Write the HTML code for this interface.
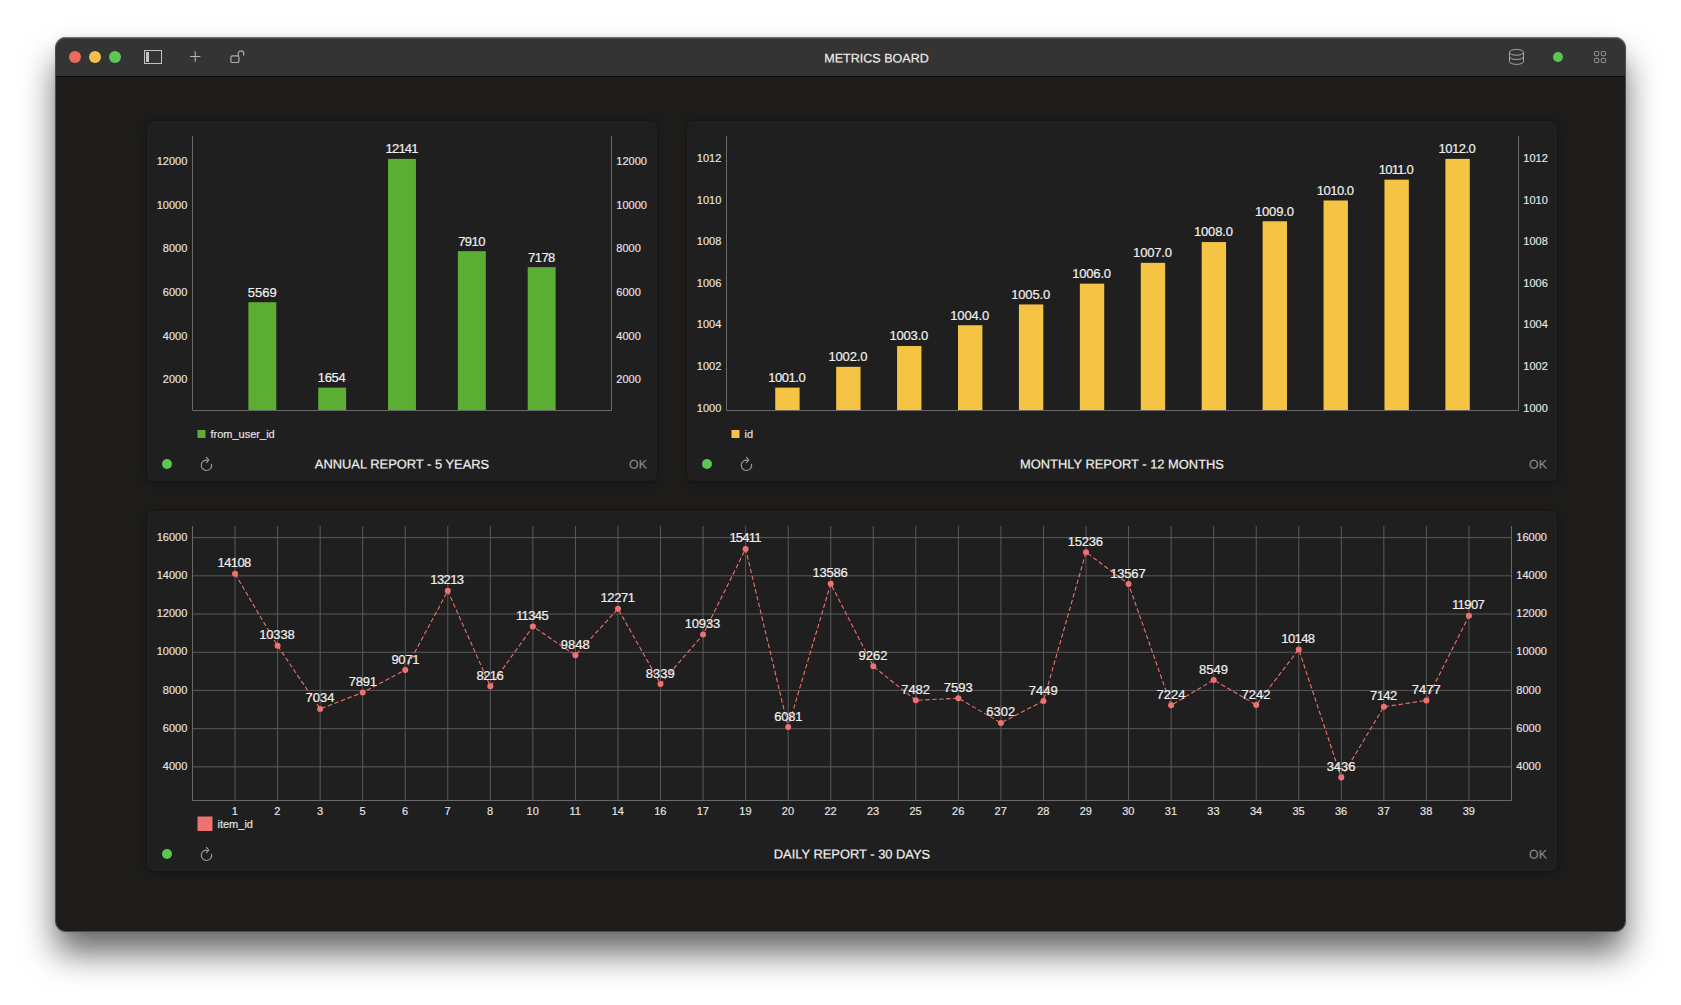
<!DOCTYPE html>
<html lang="en">
<head>
<meta charset="utf-8">
<title>METRICS BOARD</title>
<style>
html,body{margin:0;padding:0;background:#fff;}
body{width:1681px;height:1005px;position:relative;overflow:hidden;font-family:"Liberation Sans", sans-serif;}
.window{position:absolute;left:56px;top:38px;width:1569px;height:893px;border-radius:10px;background:#1d1c1a;
  box-shadow:0 -1px 0 0 #747474,0 0 0 1px #4e4e4e,0 22px 34px rgba(0,0,0,.6),0 0 5px rgba(0,0,0,.14);}
.window:after{content:"";position:absolute;left:0;top:0;right:0;height:20px;border-radius:10px 10px 0 0;
  box-shadow:inset 0 1px 0 rgba(255,255,255,.07);pointer-events:none;}
.titlebar{position:absolute;left:0;top:0;width:100%;height:38px;background:#343434;border-bottom:1px solid #0a0a0a;border-radius:10px 10px 0 0;}
.titlebar h1{position:absolute;left:72px;top:0;margin:0;width:1497px;text-align:center;font-size:12.55px;font-weight:normal;
  color:#ececec;line-height:41px;letter-spacing:0;-webkit-text-stroke:.2px #ececec;transform:translateY(.5px) skewY(.03deg);}
.tl{position:absolute;top:13px;width:12px;height:12px;border-radius:50%;}
.tb-icons{position:absolute;left:0;top:0;}
.statusdot{position:absolute;left:1497px;top:14px;width:10px;height:10px;border-radius:50%;background:#5bc650;}
.card{position:absolute;background:#1f1f1f;border-radius:5.5px;box-shadow:0 1px 8px rgba(0,0,0,.28),0 0 2px rgba(0,0,0,.3);}
.chart{position:absolute;left:0;top:0;font-family:"Liberation Sans", sans-serif;}
footer{position:absolute;left:0;right:0;bottom:0;height:36px;}
footer .dot{position:absolute;left:15px;top:13.5px;width:10px;height:10px;border-radius:50%;background:#5bc650;}
footer .refresh{position:absolute;left:51px;top:9px;}
footer h2{position:absolute;left:0;right:0;top:0;margin:0;text-align:center;font-size:12.9px;font-weight:normal;color:#f0f0f0;line-height:38px;-webkit-text-stroke:.2px #f0f0f0;transform:translateY(.6px) skewY(.03deg);}
footer .ok{position:absolute;right:10.5px;top:0;font-size:12.4px;color:#8c8c8c;line-height:38px;-webkit-text-stroke:.12px #8c8c8c;transform:translateY(.6px) skewY(.03deg);}
</style>
</head>
<body>
<div class="window">
<header class="titlebar">
<span class="tl" style="left:13px;background:#ed6a5e"></span>
<span class="tl" style="left:33px;background:#f5bf4f"></span>
<span class="tl" style="left:53px;background:#61c554"></span>
<svg class="tb-icons" width="1569" height="38" viewBox="56 38 1569 38">
<g fill="none" stroke="#c4c4c4" stroke-width="1">
<rect x="144.5" y="50.5" width="17" height="13"/>
<rect x="146.5" y="52.5" width="2" height="9" fill="#c4c4c4"/>
</g>
<path d="M190 56.5H200.4M195.2 51.3V61.7" stroke="#b4b4b4" stroke-width="1.1" fill="none"/>
<g fill="none" stroke="#ababab" stroke-width="1.2">
<rect x="230.9" y="55.9" width="8" height="6.6" rx="1.6"/>
<path d="M238.3 55.9V53.6a2.7 2.7 0 0 1 5.4 0V55.2" stroke-linecap="round"/>
</g>
<g fill="none" stroke="#a6a6a6" stroke-width="1">
<ellipse cx="1516.5" cy="52.3" rx="7" ry="2.9"/>
<path d="M1509.5 52.3V61.5a7 2.9 0 0 0 14 0V52.3"/>
<path d="M1509.5 56.6a7 2.9 0 0 0 14 0"/>
</g>
<g fill="none" stroke="#9c9c9c" stroke-width="1">
<rect x="1594.5" y="51.5" width="4.2" height="4.2" rx=".9"/>
<rect x="1601.3" y="51.5" width="4.2" height="4.2" rx=".9"/>
<rect x="1594.5" y="58.3" width="4.2" height="4.2" rx=".9"/>
<rect x="1601.3" y="58.3" width="4.2" height="4.2" rx=".9"/>
</g>
</svg>
<h1>METRICS BOARD</h1>
<span class="statusdot"></span>
</header>
<main>
<section class="card" style="left:91px;top:83px;width:510px;height:360px">
<svg class="chart" width="510" height="320" viewBox="147 121 510 320">
<g fill="#5cad33">
<rect x="248.37" y="302.23" width="27.93" height="108.27"/>
<rect x="318.2" y="387.62" width="27.93" height="22.88"/>
<rect x="388.03" y="158.88" width="27.93" height="251.62"/>
<rect x="457.87" y="251.16" width="27.93" height="159.34"/>
<rect x="527.7" y="267.13" width="27.93" height="143.37"/>
</g>
<g stroke="#6a6a6a" stroke-width="1" fill="none">
<path d="M192.5 136 V410.5 H611.5 V136"/>
</g>
<g font-size="11" fill="#e6e6e6" stroke="#e6e6e6" stroke-width=".15" >
<text x="187.3" y="383.28" text-anchor="end">2000</text>
<text x="616.3" y="383.28">2000</text>
<text x="187.3" y="339.65" text-anchor="end">4000</text>
<text x="616.3" y="339.65">4000</text>
<text x="187.3" y="296.03" text-anchor="end">6000</text>
<text x="616.3" y="296.03">6000</text>
<text x="187.3" y="252.4" text-anchor="end">8000</text>
<text x="616.3" y="252.4">8000</text>
<text x="187.3" y="208.78" text-anchor="end">10000</text>
<text x="616.3" y="208.78">10000</text>
<text x="187.3" y="165.15" text-anchor="end">12000</text>
<text x="616.3" y="165.15">12000</text>
</g>
<g font-size="13" fill="#f0f0f0" stroke="#f0f0f0" stroke-width=".2" text-anchor="middle" >
<text x="262.33" y="296.63">5569</text>
<text x="331.63" y="382.02" letter-spacing="-0.27">1654</text>
<text x="401.6" y="153.28" letter-spacing="-0.8">12141</text>
<text x="471.57" y="245.56" letter-spacing="-0.53">7910</text>
<text x="541.4" y="261.53" letter-spacing="-0.53">7178</text>
</g>
<rect x="197.5" y="430" width="8" height="8" fill="#5cad33"/>
<g font-size="11" fill="#e6e6e6" stroke="#e6e6e6" stroke-width=".15" ><text x="210.5" y="437.8">from_user_id</text></g>
</svg>
<footer><span class="dot"></span><svg class="refresh" width="16" height="18" viewBox="0 0 16 18"><g fill="none" stroke="#9e9e9e" stroke-width="1.1" stroke-linecap="round" stroke-linejoin="round"><path d="M13.55 10.2 A5.2 5.2 0 1 1 10.3 6.45"/><path d="M8.4 3.3 L10.9 6.0 L8.5 8.6"/></g></svg><h2>ANNUAL REPORT - 5 YEARS</h2><span class="ok">OK</span></footer>
</section>
<section class="card" style="left:631px;top:83px;width:870px;height:360px">
<svg class="chart" width="870" height="320" viewBox="687 121 870 320">
<g fill="#f6c445">
<rect x="775.24" y="387.62" width="24.37" height="22.88"/>
<rect x="836.16" y="366.83" width="24.37" height="43.67"/>
<rect x="897.08" y="346.03" width="24.37" height="64.47"/>
<rect x="958.01" y="325.24" width="24.37" height="85.26"/>
<rect x="1018.93" y="304.44" width="24.37" height="106.06"/>
<rect x="1079.85" y="283.65" width="24.37" height="126.85"/>
<rect x="1140.78" y="262.85" width="24.37" height="147.65"/>
<rect x="1201.7" y="242.06" width="24.37" height="168.44"/>
<rect x="1262.62" y="221.26" width="24.37" height="189.24"/>
<rect x="1323.55" y="200.47" width="24.37" height="210.03"/>
<rect x="1384.47" y="179.67" width="24.37" height="230.83"/>
<rect x="1445.39" y="158.88" width="24.37" height="251.62"/>
</g>
<g stroke="#6a6a6a" stroke-width="1" fill="none">
<path d="M726.5 136 V410.5 H1518.5 V136"/>
</g>
<g font-size="11" fill="#e6e6e6" stroke="#e6e6e6" stroke-width=".15" >
<text x="721.3" y="411.62" text-anchor="end">1000</text>
<text x="1523.3" y="411.62">1000</text>
<text x="721.3" y="370.03" text-anchor="end">1002</text>
<text x="1523.3" y="370.03">1002</text>
<text x="721.3" y="328.44" text-anchor="end">1004</text>
<text x="1523.3" y="328.44">1004</text>
<text x="721.3" y="286.85" text-anchor="end">1006</text>
<text x="1523.3" y="286.85">1006</text>
<text x="721.3" y="245.26" text-anchor="end">1008</text>
<text x="1523.3" y="245.26">1008</text>
<text x="721.3" y="203.67" text-anchor="end">1010</text>
<text x="1523.3" y="203.67">1010</text>
<text x="721.3" y="162.08" text-anchor="end">1012</text>
<text x="1523.3" y="162.08">1012</text>
</g>
<g font-size="13" fill="#f0f0f0" stroke="#f0f0f0" stroke-width=".2" text-anchor="middle" >
<text x="786.78" y="382.02" letter-spacing="-0.48">1001.0</text>
<text x="847.87" y="361.23" letter-spacing="-0.16">1002.0</text>
<text x="908.79" y="340.43" letter-spacing="-0.16">1003.0</text>
<text x="969.71" y="319.64" letter-spacing="-0.16">1004.0</text>
<text x="1030.64" y="298.84" letter-spacing="-0.16">1005.0</text>
<text x="1091.56" y="278.05" letter-spacing="-0.16">1006.0</text>
<text x="1152.48" y="257.25" letter-spacing="-0.16">1007.0</text>
<text x="1213.4" y="236.46" letter-spacing="-0.16">1008.0</text>
<text x="1274.33" y="215.66" letter-spacing="-0.16">1009.0</text>
<text x="1335.09" y="194.87" letter-spacing="-0.48">1010.0</text>
<text x="1395.85" y="174.07" letter-spacing="-0.8">1011.0</text>
<text x="1456.94" y="153.28" letter-spacing="-0.48">1012.0</text>
</g>
<rect x="731.5" y="430" width="8" height="8" fill="#f6c445"/>
<g font-size="11" fill="#e6e6e6" stroke="#e6e6e6" stroke-width=".15" ><text x="744.5" y="437.8">id</text></g>
</svg>
<footer><span class="dot"></span><svg class="refresh" width="16" height="18" viewBox="0 0 16 18"><g fill="none" stroke="#9e9e9e" stroke-width="1.1" stroke-linecap="round" stroke-linejoin="round"><path d="M13.55 10.2 A5.2 5.2 0 1 1 10.3 6.45"/><path d="M8.4 3.3 L10.9 6.0 L8.5 8.6"/></g></svg><h2>MONTHLY REPORT - 12 MONTHS</h2><span class="ok">OK</span></footer>
</section>
<section class="card" style="left:91px;top:473px;width:1410px;height:360px">
<svg class="chart" width="1410" height="320" viewBox="147 511 1410 320">
<path d="M235.05 526V800.5M277.6 526V800.5M320.15 526V800.5M362.69 526V800.5M405.24 526V800.5M447.79 526V800.5M490.34 526V800.5M532.89 526V800.5M575.44 526V800.5M617.98 526V800.5M660.53 526V800.5M703.08 526V800.5M745.63 526V800.5M788.18 526V800.5M830.73 526V800.5M873.27 526V800.5M915.82 526V800.5M958.37 526V800.5M1000.92 526V800.5M1043.47 526V800.5M1086.02 526V800.5M1128.56 526V800.5M1171.11 526V800.5M1213.66 526V800.5M1256.21 526V800.5M1298.76 526V800.5M1341.31 526V800.5M1383.85 526V800.5M1426.4 526V800.5M1468.95 526V800.5" stroke="#5a5a5a" stroke-width="1" fill="none"/>
<path d="M192 766.85H1512M192 728.65H1512M192 690.44H1512M192 652.24H1512M192 614.03H1512M192 575.83H1512M192 537.62H1512" stroke="#5a5a5a" stroke-width="1" fill="none"/>
<path d="M192.5 526 V800.5 H1511.5 V526" stroke="#6a6a6a" stroke-width="1" fill="none"/>
<polyline points="235.05,573.77 277.6,645.78 320.15,708.89 362.69,692.52 405.24,669.98 447.79,590.86 490.34,686.32 532.89,626.54 575.44,655.14 617.98,608.86 660.53,683.97 703.08,634.42 745.63,548.88 788.18,727.1 830.73,583.74 873.27,666.34 915.82,700.34 958.37,698.22 1000.92,722.88 1043.47,700.97 1086.02,552.22 1128.56,584.1 1171.11,705.27 1213.66,679.95 1256.21,704.92 1298.76,649.41 1341.31,777.62 1383.85,706.83 1426.4,700.43 1468.95,615.81" stroke="#ee7270" stroke-width="1.1" stroke-dasharray="4.5 2.5" fill="none"/>
<g fill="#ee7270">
<circle cx="235.05" cy="573.77" r="3"/>
<circle cx="277.6" cy="645.78" r="3"/>
<circle cx="320.15" cy="708.89" r="3"/>
<circle cx="362.69" cy="692.52" r="3"/>
<circle cx="405.24" cy="669.98" r="3"/>
<circle cx="447.79" cy="590.86" r="3"/>
<circle cx="490.34" cy="686.32" r="3"/>
<circle cx="532.89" cy="626.54" r="3"/>
<circle cx="575.44" cy="655.14" r="3"/>
<circle cx="617.98" cy="608.86" r="3"/>
<circle cx="660.53" cy="683.97" r="3"/>
<circle cx="703.08" cy="634.42" r="3"/>
<circle cx="745.63" cy="548.88" r="3"/>
<circle cx="788.18" cy="727.1" r="3"/>
<circle cx="830.73" cy="583.74" r="3"/>
<circle cx="873.27" cy="666.34" r="3"/>
<circle cx="915.82" cy="700.34" r="3"/>
<circle cx="958.37" cy="698.22" r="3"/>
<circle cx="1000.92" cy="722.88" r="3"/>
<circle cx="1043.47" cy="700.97" r="3"/>
<circle cx="1086.02" cy="552.22" r="3"/>
<circle cx="1128.56" cy="584.1" r="3"/>
<circle cx="1171.11" cy="705.27" r="3"/>
<circle cx="1213.66" cy="679.95" r="3"/>
<circle cx="1256.21" cy="704.92" r="3"/>
<circle cx="1298.76" cy="649.41" r="3"/>
<circle cx="1341.31" cy="777.62" r="3"/>
<circle cx="1383.85" cy="706.83" r="3"/>
<circle cx="1426.4" cy="700.43" r="3"/>
<circle cx="1468.95" cy="615.81" r="3"/>
</g>
<g font-size="11" fill="#e6e6e6" stroke="#e6e6e6" stroke-width=".15" >
<text x="187.3" y="770.05" text-anchor="end">4000</text>
<text x="1516.3" y="770.05">4000</text>
<text x="187.3" y="731.85" text-anchor="end">6000</text>
<text x="1516.3" y="731.85">6000</text>
<text x="187.3" y="693.64" text-anchor="end">8000</text>
<text x="1516.3" y="693.64">8000</text>
<text x="187.3" y="655.44" text-anchor="end">10000</text>
<text x="1516.3" y="655.44">10000</text>
<text x="187.3" y="617.23" text-anchor="end">12000</text>
<text x="1516.3" y="617.23">12000</text>
<text x="187.3" y="579.03" text-anchor="end">14000</text>
<text x="1516.3" y="579.03">14000</text>
<text x="187.3" y="540.82" text-anchor="end">16000</text>
<text x="1516.3" y="540.82">16000</text>
</g>
<g font-size="11" fill="#e6e6e6" stroke="#e6e6e6" stroke-width=".15" text-anchor="middle" >
<text x="234.85" y="815.2">1</text>
<text x="277.4" y="815.2">2</text>
<text x="319.95" y="815.2">3</text>
<text x="362.49" y="815.2">5</text>
<text x="405.04" y="815.2">6</text>
<text x="447.59" y="815.2">7</text>
<text x="490.14" y="815.2">8</text>
<text x="532.69" y="815.2">10</text>
<text x="575.24" y="815.2">11</text>
<text x="617.78" y="815.2">14</text>
<text x="660.33" y="815.2">16</text>
<text x="702.88" y="815.2">17</text>
<text x="745.43" y="815.2">19</text>
<text x="787.98" y="815.2">20</text>
<text x="830.53" y="815.2">22</text>
<text x="873.07" y="815.2">23</text>
<text x="915.62" y="815.2">25</text>
<text x="958.17" y="815.2">26</text>
<text x="1000.72" y="815.2">27</text>
<text x="1043.27" y="815.2">28</text>
<text x="1085.82" y="815.2">29</text>
<text x="1128.36" y="815.2">30</text>
<text x="1170.91" y="815.2">31</text>
<text x="1213.46" y="815.2">33</text>
<text x="1256.01" y="815.2">34</text>
<text x="1298.56" y="815.2">35</text>
<text x="1341.11" y="815.2">36</text>
<text x="1383.65" y="815.2">37</text>
<text x="1426.2" y="815.2">38</text>
<text x="1468.75" y="815.2">39</text>
</g>
<g font-size="13" fill="#f0f0f0" stroke="#f0f0f0" stroke-width=".2" text-anchor="middle" >
<text x="234.15" y="567.37" letter-spacing="-0.6">14108</text>
<text x="276.9" y="639.38" letter-spacing="-0.2">10338</text>
<text x="319.95" y="702.49">7034</text>
<text x="362.76" y="686.12" letter-spacing="-0.27">7891</text>
<text x="405.31" y="663.58" letter-spacing="-0.27">9071</text>
<text x="446.89" y="584.46" letter-spacing="-0.6">13213</text>
<text x="489.87" y="679.92" letter-spacing="-0.53">8216</text>
<text x="531.99" y="620.14" letter-spacing="-0.6">11345</text>
<text x="575.24" y="648.74">9848</text>
<text x="617.58" y="602.46" letter-spacing="-0.4">12271</text>
<text x="660.33" y="677.57">8339</text>
<text x="702.38" y="628.02" letter-spacing="-0.2">10933</text>
<text x="745.03" y="542.48" letter-spacing="-0.8">15411</text>
<text x="788.24" y="720.7" letter-spacing="-0.27">6081</text>
<text x="830.03" y="577.34" letter-spacing="-0.2">13586</text>
<text x="873.07" y="659.94">9262</text>
<text x="915.62" y="693.94">7482</text>
<text x="958.17" y="691.82">7593</text>
<text x="1000.72" y="716.48">6302</text>
<text x="1043.27" y="694.57">7449</text>
<text x="1085.32" y="545.82" letter-spacing="-0.2">15236</text>
<text x="1127.86" y="577.7" letter-spacing="-0.2">13567</text>
<text x="1170.91" y="698.87">7224</text>
<text x="1213.46" y="673.55">8549</text>
<text x="1256.01" y="698.52">7242</text>
<text x="1297.86" y="643.01" letter-spacing="-0.6">10148</text>
<text x="1341.11" y="771.23">3436</text>
<text x="1383.39" y="700.43" letter-spacing="-0.53">7142</text>
<text x="1426.2" y="694.03">7477</text>
<text x="1468.05" y="609.41" letter-spacing="-0.6">11907</text>
</g>
<rect x="197.5" y="816.5" width="15" height="15" fill="#ee7270"/>
<g font-size="11" fill="#e6e6e6" stroke="#e6e6e6" stroke-width=".15" ><text x="217.5" y="828.3">item_id</text></g>
</svg>
<footer><span class="dot"></span><svg class="refresh" width="16" height="18" viewBox="0 0 16 18"><g fill="none" stroke="#9e9e9e" stroke-width="1.1" stroke-linecap="round" stroke-linejoin="round"><path d="M13.55 10.2 A5.2 5.2 0 1 1 10.3 6.45"/><path d="M8.4 3.3 L10.9 6.0 L8.5 8.6"/></g></svg><h2>DAILY REPORT - 30 DAYS</h2><span class="ok">OK</span></footer>
</section>
</main>
</div>
</body>
</html>
